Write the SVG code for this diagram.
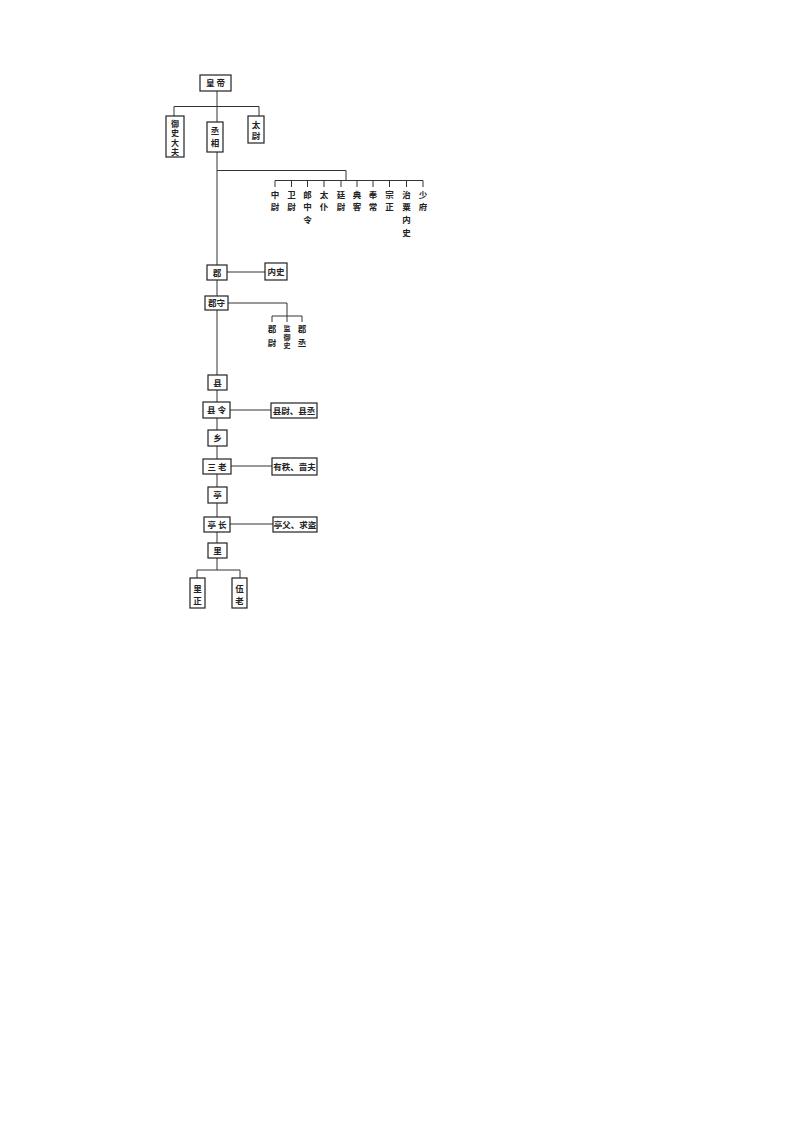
<svg xmlns="http://www.w3.org/2000/svg" width="793" height="1123" viewBox="0 0 793 1123">
<style>
.b{fill:#fff;stroke:#222;stroke-width:1.2}
.l{fill:none;stroke:#333;stroke-width:1}
text{font-family:"Noto Sans CJK SC","Noto Sans CJK TC",sans-serif;font-size:8.5px;fill:#222;text-anchor:middle;font-weight:bold}
.s{font-size:8px}
.t{font-size:7px}
</style>
<rect width="793" height="1123" fill="#fff"/>
<g id="connectors">
<path class="l" d="M217,91V122M174,106.5H259M174,106.5V116M259,106.5V116"/>
<path class="l" d="M217,152V265M217,170.5H346V180.5M275,180.5H423"/>
<path class="l" d="M275,180.5V187M291.5,180.5V187M307.5,180.5V187M324,180.5V187M341,180.5V187M357,180.5V187M373,180.5V187M389.5,180.5V187M406.5,180.5V187M423,180.5V187"/>
<path class="l" d="M227,272H265M217,280V296M228,303H287V316M272,316H302M272,316V322M287,316V322M302,316V322"/>
<path class="l" d="M217,310V375M217,390V402M230,410H271M217,418V430M217,446V459M231,466H272M217,474V487M217,503V517M230,524H273M217,532V543M217,558V570M197,570H240M197,570V578M240,570V578"/>
</g>
<g id="n-huangdi"><rect class="b" x="200" y="75" width="31" height="16"/><text x="215.5" y="86.3">皇 帝</text></g>
<g id="n-yushidafu"><rect class="b" x="166" y="116" width="18" height="41"/><text class="s" x="175" y="126.5">御</text><text class="s" x="175" y="136">史</text><text class="s" x="175" y="145.5">大</text><text class="s" x="175" y="155">夫</text></g>
<g id="n-chengxiang"><rect class="b" x="207" y="122" width="16" height="30"/><text x="215" y="134">丞</text><text x="215" y="146">相</text></g>
<g id="n-taiwei"><rect class="b" x="248" y="116" width="16" height="27"/><text x="256" y="128">太</text><text x="256" y="139">尉</text></g>
<g id="n-zhongwei"><text x="275" y="198">中</text><text x="275" y="210">尉</text></g>
<g id="n-weiwei"><text x="291.5" y="198">卫</text><text x="291.5" y="210">尉</text></g>
<g id="n-langzhongling"><text x="307.5" y="198">郎</text><text x="307.5" y="210">中</text><text x="307.5" y="223">令</text></g>
<g id="n-taipu"><text x="324" y="198">太</text><text x="324" y="210">仆</text></g>
<g id="n-tingwei"><text x="341" y="198">廷</text><text x="341" y="210">尉</text></g>
<g id="n-dianke"><text x="357" y="198">典</text><text x="357" y="210">客</text></g>
<g id="n-fengchang"><text x="373" y="198">奉</text><text x="373" y="210">常</text></g>
<g id="n-zongzheng"><text x="389.5" y="198">宗</text><text x="389.5" y="210">正</text></g>
<g id="n-zhisuneishi"><text x="406.5" y="198">治</text><text x="406.5" y="210">粟</text><text x="406.5" y="223">内</text><text x="406.5" y="236">史</text></g>
<g id="n-shaofu"><text x="423" y="198">少</text><text x="423" y="210">府</text></g>
<g id="n-jun"><rect class="b" x="207" y="265" width="20" height="15"/><text x="217" y="275.5">郡</text></g>
<g id="n-neishi"><rect class="b" x="265" y="263" width="22" height="17"/><text x="276" y="274.7">内史</text></g>
<g id="n-junshou"><rect class="b" x="205" y="296" width="23" height="14"/><text x="216.5" y="306">郡守</text></g>
<g id="n-junwei"><text x="272" y="332">郡</text><text x="272" y="346">尉</text></g>
<g id="n-jianyushi"><text class="t" x="287" y="331">监</text><text class="t" x="287" y="339.5">御</text><text class="t" x="287" y="348">史</text></g>
<g id="n-juncheng"><text x="302" y="332">郡</text><text x="302" y="346">丞</text></g>
<g id="n-xian"><rect class="b" x="208" y="375" width="19" height="15"/><text x="217.5" y="385.5">县</text></g>
<g id="n-xianling"><rect class="b" x="203" y="402" width="27" height="16"/><text x="216.5" y="413">县 令</text></g>
<g id="n-xianweicheng"><rect class="b" x="271" y="403" width="46" height="15"/><text x="294" y="413.5">县尉、县丞</text></g>
<g id="n-xiang"><rect class="b" x="208" y="430" width="19" height="16"/><text x="217.5" y="441">乡</text></g>
<g id="n-sanlao"><rect class="b" x="203" y="459" width="28" height="15"/><text x="217" y="469.5">三 老</text></g>
<g id="n-youzhisefu"><rect class="b" x="272" y="458" width="45" height="17"/><text x="294.5" y="469.7">有秩、啬夫</text></g>
<g id="n-ting"><rect class="b" x="208" y="487" width="19" height="16"/><text x="217.5" y="498">亭</text></g>
<g id="n-tingzhang"><rect class="b" x="204" y="517" width="26" height="15"/><text x="217" y="527.5">亭 长</text></g>
<g id="n-tingfuqiudao"><rect class="b" x="273" y="517" width="44" height="15"/><text x="295" y="527.5">亭父、求盗</text></g>
<g id="n-li"><rect class="b" x="208" y="543" width="19" height="15"/><text x="217.5" y="553.5">里</text></g>
<g id="n-lizheng"><rect class="b" x="190" y="578" width="15" height="30"/><text x="197.5" y="592">里</text><text x="197.5" y="604">正</text></g>
<g id="n-wulao"><rect class="b" x="232" y="578" width="15" height="30"/><text x="239.5" y="592">伍</text><text x="239.5" y="604">老</text></g>
</svg>
